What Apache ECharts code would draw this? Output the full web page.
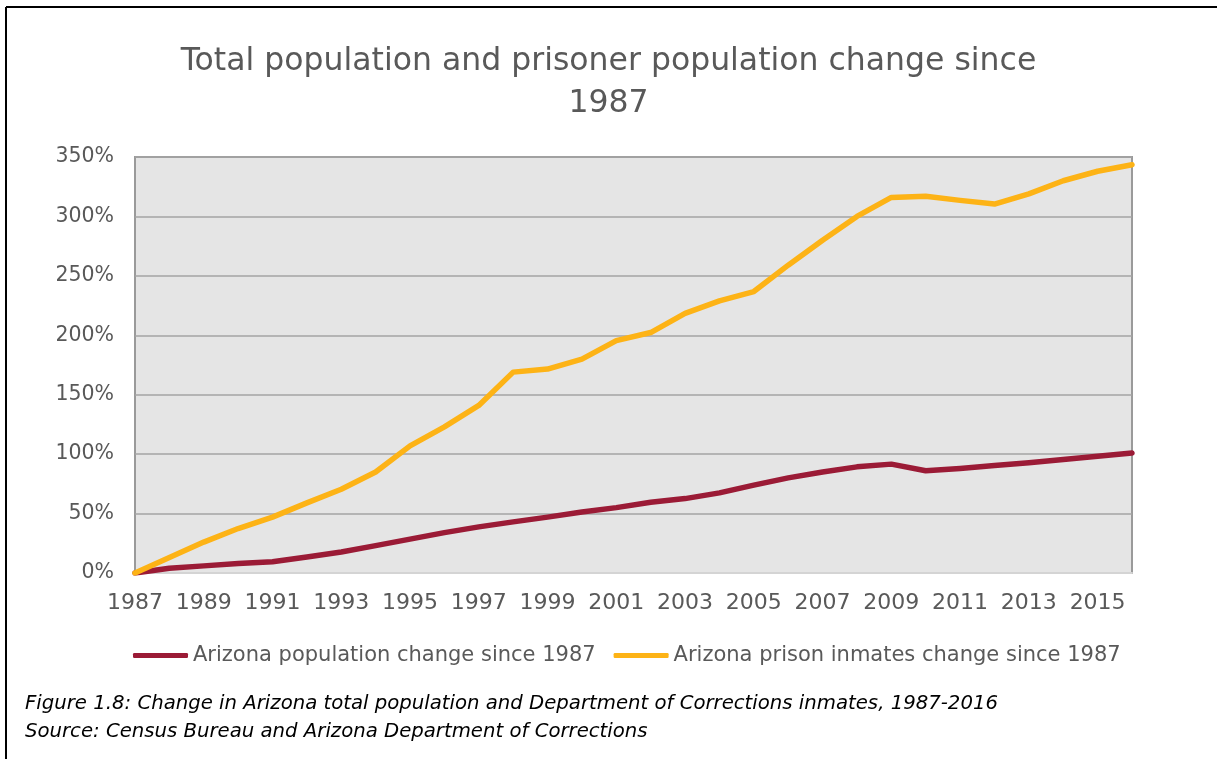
<!DOCTYPE html>
<html>
<head>
<meta charset="utf-8">
<script src="https://cdn.jsdelivr.net/npm/echarts@6/dist/echarts.min.js"></script>
<style>
html,body{margin:0;padding:0;background:#fff;}
#chart{width:1217px;height:759px;}
</style>
</head>
<body>
<div id="chart"></div>
<script>
const years = ['1987','1988','1989','1990','1991','1992','1993','1994','1995','1996','1997','1998','1999','2000','2001','2002','2003','2004','2005','2006','2007','2008','2009','2010','2011','2012','2013','2014','2015','2016'];
const populationChange = [0,4,6,8,9.5,13.5,17.7,23,28.5,34,38.8,43,47,51.4,55,59.5,62.6,67.4,73.9,80,85,89.3,91.6,86,88,90.4,92.7,95.5,98.3,101];
const inmatesChange = [0,13,26,37.4,47,59,70.5,85,107,123,141,169,171.6,180,195.5,202.3,218.5,229,236.8,259,280,300,316,316.9,313.5,310.4,319,330,338,343.5];
const yTicks = {min:0, max:350, interval:50};

const chart = echarts.init(document.getElementById('chart'), null, {renderer:'canvas'});
const font = '"DejaVu Sans", "Liberation Sans", Arial, sans-serif';
chart.setOption({
  backgroundColor:'#ffffff',
  animation:false,
  title:{
    text:'Total population and prisoner population change since\n1987',
    left:'center', top:36,
    textStyle:{fontFamily:font, fontSize:31.5, fontWeight:'normal', color:'#595959', lineHeight:42}
  },
  grid:{left:135, right:85, top:157, bottom:186, show:true, backgroundColor:'#e5e5e5', borderColor:'#9a9a9a', borderWidth:2},
  legend:{
    top:640, left:128,
    itemWidth:55, itemHeight:5, itemGap:18,
    icon:'roundRect',
    textStyle:{fontFamily:font, fontSize:21, color:'#595959'},
    data:['Arizona population change since 1987','Arizona prison inmates change since 1987']
  },
  xAxis:{
    type:'category', data:years, boundaryGap:false,
    axisLine:{show:true, lineStyle:{color:'#d4d4d4', width:2}},
    axisTick:{show:false},
    axisLabel:{interval:1, fontFamily:font, fontSize:22, color:'#595959', margin:19},
    splitLine:{show:false}
  },
  yAxis:{
    type:'value', min:yTicks.min, max:yTicks.max, interval:yTicks.interval,
    axisLine:{show:false}, axisTick:{show:false},
    axisLabel:{formatter:'{value}%', fontFamily:font, fontSize:20.5, color:'#595959', margin:21},
    splitLine:{show:true, lineStyle:{color:'#a3a3a3', width:1.5}}
  },
  series:[
    {name:'Arizona population change since 1987', type:'line', data:populationChange, symbol:'none', lineStyle:{color:'#9b1b36', width:5.5, cap:'round', join:'round'}, itemStyle:{color:'#9b1b36'}},
    {name:'Arizona prison inmates change since 1987', type:'line', data:inmatesChange, symbol:'none', lineStyle:{color:'#fdb316', width:5.5, cap:'round', join:'round'}, itemStyle:{color:'#fdb316'}}
  ],
  graphic:[
    {type:'line', shape:{x1:6, y1:7, x2:6, y2:759}, style:{stroke:'#000', lineWidth:2}},
    {type:'line', shape:{x1:6, y1:7, x2:1217, y2:7}, style:{stroke:'#000', lineWidth:2}},
    {type:'text', left:25, top:694, style:{text:'Figure 1.8: Change in Arizona total population and Department of Corrections inmates, 1987-2016', font:'italic 19.7px "DejaVu Sans", "Liberation Sans", Arial, sans-serif', fill:'#000'}},
    {type:'text', left:25, top:722, style:{text:'Source: Census Bureau and Arizona Department of Corrections', font:'italic 19.7px "DejaVu Sans", "Liberation Sans", Arial, sans-serif', fill:'#000'}}
  ]
});
</script>
</body>
</html>
